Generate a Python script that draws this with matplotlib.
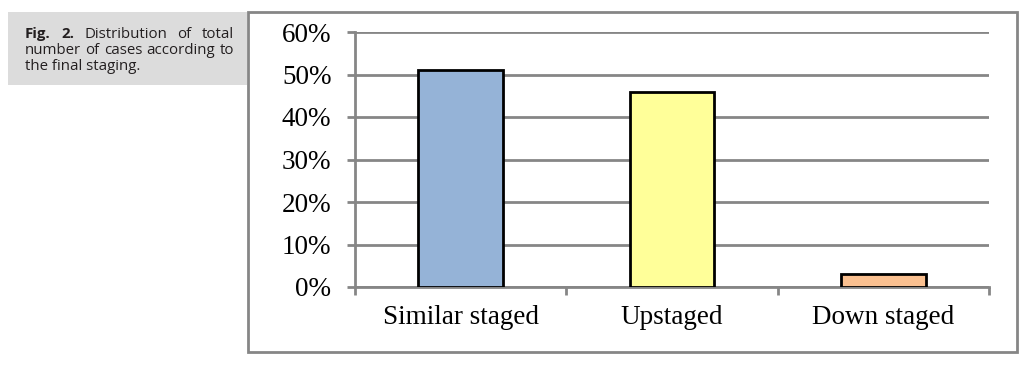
import matplotlib.pyplot as plt
from matplotlib.patches import Rectangle
from matplotlib.ticker import PercentFormatter

# Data
categories = ['Similar staged', 'Upstaged', 'Down staged']
percent = [51, 46, 3]
colors = ['#95B3D7', '#FFFF99', '#FAC090']

W, H = 1025, 376
fig = plt.figure(figsize=(W / 100, H / 100), dpi=100)

def fx(px):
    return px / W

def fy(py):
    return 1 - py / H

# Caption box on the left
fig.patches.append(Rectangle((fx(8), fy(85)), fx(247) - fx(8), fy(12) - fy(85),
                             transform=fig.transFigure, facecolor='#DCDCDC',
                             edgecolor='none', zorder=0))
cap_lines = [['Fig.', '2.', 'Distribution', 'of', 'total'],
             ['number', 'of', 'cases', 'according', 'to'],
             ['the final staging.']]
renderer = fig.canvas.get_renderer()
x0, x1 = 25, 234
ys = [38, 54, 70]  # baselines
cap_size = 10.8
for li, (words, yy) in enumerate(zip(cap_lines, ys)):
    if li == 2:
        fig.text(fx(x0), fy(yy), words[0], fontsize=cap_size, family='Open Sans',
                 va='baseline', ha='left', color='#231F20')
        continue
    texts = []
    for wi, w in enumerate(words):
        bold = li == 0 and wi < 2
        t = fig.text(0, fy(yy), w, fontsize=cap_size, family='Open Sans', va='baseline',
                     ha='left', color='#231F20', fontweight='bold' if bold else 'normal')
        texts.append(t)
    widths = [t.get_window_extent(renderer).width for t in texts]
    gap = (x1 - x0 - sum(widths)) / (len(words) - 1)
    pos = x0
    for t, w in zip(texts, widths):
        t.set_x(fx(pos))
        pos += w + gap

# Outer chart frame
fig.patches.append(Rectangle((fx(248), fy(352)), fx(1017) - fx(248), fy(12) - fy(352),
                             transform=fig.transFigure, facecolor='none',
                             edgecolor='#868686', linewidth=2, zorder=1))

ax = fig.add_axes([fx(355), fy(287), fx(989) - fx(355), fy(32) - fy(287)])
x = range(len(categories))
ax.bar(x, percent, width=0.4, color=colors, edgecolor='black', linewidth=2, zorder=3)

ax.set_xlim(-0.5, len(categories) - 0.5)
ax.set_ylim(0, 60)
ax.set_yticks(range(0, 61, 10))
ax.yaxis.set_major_formatter(PercentFormatter(decimals=0))
ax.grid(axis='y', color='#868686', linewidth=2, zorder=0)

ax.set_xticks([i - 0.5 for i in range(len(categories) + 1)], minor=False)
ax.set_xticklabels([''] * (len(categories) + 1))
ax.set_xticks(list(x), minor=True)
ax.set_xticklabels(categories, minor=True)
ax.tick_params(axis='x', which='major', length=6, width=2, color='#868686', direction='out')
ax.tick_params(axis='x', which='minor', length=0, pad=13, labelcolor='black',
               labelsize=19.5, labelfontfamily='Liberation Serif')
ax.tick_params(axis='y', length=6, width=2, color='#868686', direction='out',
               labelsize=19.5, labelfontfamily='Liberation Serif', pad=11)

for side in ['top', 'right']:
    ax.spines[side].set_visible(False)
for side in ['left', 'bottom']:
    ax.spines[side].set_color('#868686')
    ax.spines[side].set_linewidth(2)

fig.savefig('out.png', dpi=100)
